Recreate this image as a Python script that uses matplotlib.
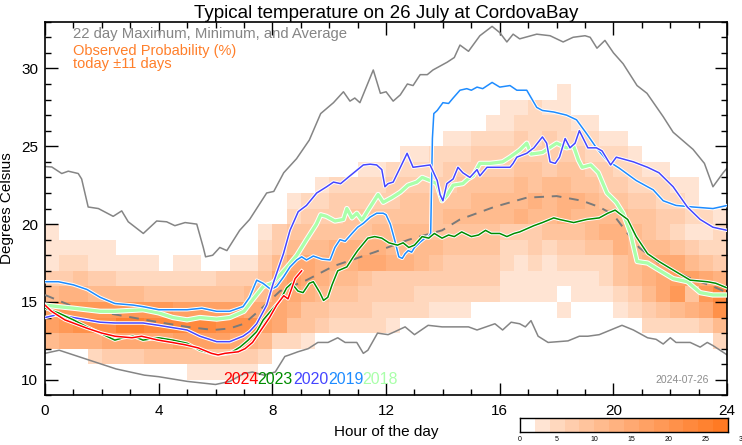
import numpy as np
import matplotlib
matplotlib.use('Agg')
import matplotlib.pyplot as plt
import matplotlib.patheffects as pe
from matplotlib.colors import ListedColormap, BoundaryNorm

plt.rcParams['font.family'] = ['Liberation Sans', 'DejaVu Sans']

# observed probability, one row per 1 degree bin (28-29 at top down to 10-11),
# one char per half hour (0.0 .. 23.5). char = colour bar step (2 % each, 0 = blank)
# each row is written in 4 blocks of 12 half hours (0-6h, 6-12h, 12-18h, 18-24h)
prob_rows = [
    "000000000000" "000000000000" "000000000000" "100000000000",  # 28
    "000000000000" "000000000000" "000000001121" "100000000000",  # 27
    "000000000000" "000000000000" "000000011222" "211000000000",  # 26
    "000000000000" "000000000000" "000011222323" "222110000000",  # 25
    "000000000000" "000000000000" "011222333333" "332221000000",  # 24
    "000000000000" "000000000011" "222233333443" "443322110000",  # 23
    "000000000000" "000000012222" "333334444545" "544332221100",  # 22
    "000000000000" "000001223333" "344444555565" "665443322100",  # 21
    "000000000000" "000002333444" "444455555655" "655554433221",  # 20
    "100000000000" "000134444445" "555444443334" "445665432112",  # 19
    "111110000000" "000235556666" "555544442232" "334465554322",  # 18
    "122111110110" "011357766677" "665433332121" "222245677543",  # 17
    "334332222222" "333478765543" "333333331111" "111245678876",  # 16
    "566555544444" "445577654433" "332222221111" "01112357949b",  # 15
    "899999999888" "887776443332" "222111000000" "10001234567a",  # 14
    "89aaaccbbbbb" "aaa874432222" "100000000000" "000000222235",  # 13
    "566677777888" "876522100000" "000000000000" "000000000002",  # 12
    "000233344444" "433200000000" "000000000000" "000000000000",  # 11
    "000000000011" "111000000000" "000000000000" "000000000000",  # 10
]
bin_bottom = np.arange(28, 9, -1)
cbar_steps = np.arange(0, 30, 2)

# 22 day max / min / average
max_h = [0, 0.24, 0.59, 0.82, 1.17, 1.29, 1.52, 1.88, 2.4, 2.7, 2.93, 3.46, 3.93, 4.28, 4.57, 4.93, 5.34,
         5.57, 5.65, 5.9, 6.15, 6.4, 6.85, 7.2, 7.8, 8.05, 8.4, 8.85, 9.3, 9.7, 10.15, 10.5, 10.73,
         10.9, 11.08, 11.55, 11.8, 12.0, 12.25, 12.5, 12.75, 12.95, 13.2, 13.45, 13.65, 14.15, 14.4,
         14.6, 14.9, 15.3, 15.73, 16.0, 16.25, 16.47, 16.7, 17.3, 17.77, 18.23, 18.58, 19.0, 19.18,
         19.42, 19.7, 20.0, 20.34, 20.83, 21.18, 21.75, 22.1, 22.8, 23.2, 23.5, 23.86, 24.0]
max_t = [23.7, 23.67, 23.25, 23.4, 23.25, 22.9, 21.1, 21.0, 20.5, 20.85, 20.15, 19.4, 20.2, 20.15, 19.9,
         20.1, 20.0, 18.5, 17.9, 18.0, 18.5, 18.3, 19.6, 20.3, 22.0, 22.1, 23.3, 24.2, 25.4, 27.1, 27.8,
         28.5, 27.9, 28.1, 27.8, 29.9, 28.4, 28.5, 27.9, 28.3, 29.0, 28.9, 29.6, 29.6, 29.9, 30.4, 30.7,
         31.5, 31.1, 32.1, 32.7, 32.3, 31.7, 32.2, 31.9, 32.2, 32.1, 31.7, 32.0, 32.1, 32.0, 31.3, 31.8,
         31.0, 30.3, 28.9, 28.4, 26.9, 25.9, 24.8, 23.9, 22.4, 23.3, 23.6]

min_h = [0, 0.5, 1.5, 2.5, 3.5, 4.0, 5.0, 6.0, 6.5, 7.0, 7.3, 7.7, 8.1, 8.44, 8.6, 8.9, 9.26, 9.6, 9.96,
         10.3, 10.56, 10.97, 11.2, 11.36, 11.7, 12.07, 12.32, 12.67, 13.0, 13.48, 13.97, 14.9, 15.2,
         15.83, 16.1, 16.4, 16.7, 16.9, 17.1, 17.35, 17.7, 18.4, 18.8, 19.1, 19.5, 20.3, 20.7, 21.2,
         21.5, 21.75, 22.0, 22.2, 22.7, 23.05, 23.3, 23.5, 24.0]
min_t = [11.7, 11.9, 11.3, 10.7, 10.3, 10.2, 9.9, 9.7, 9.9, 10.4, 10.5, 10.3, 10.5, 11.5, 11.6, 11.8,
         12.0, 12.4, 12.4, 12.7, 12.4, 12.4, 11.7, 11.9, 13.0, 12.9, 13.1, 13.4, 12.9, 13.5, 13.4, 13.4,
         13.2, 13.6, 13.2, 13.7, 13.6, 13.4, 13.8, 12.8, 12.4, 12.5, 12.8, 12.8, 12.9, 13.5, 13.2, 12.7,
         12.6, 12.3, 12.7, 12.4, 12.4, 12.1, 12.4, 12.2, 11.6]

avg_h = [0, 1.0, 2.46, 4.0, 5.0, 5.93, 6.5, 7.0, 7.57, 8.27, 9.2, 10.15, 11.6, 12.8, 13.97, 14.6, 15.8,
         16.95, 18.0, 18.9, 19.5, 20.0, 20.5, 20.9, 21.6, 22.6, 23.5, 24.0]
avg_t = [15.45, 14.7, 14.2, 13.7, 13.4, 13.2, 13.3, 13.6, 14.5, 15.7, 16.4, 17.3, 18.2, 19.0, 19.6, 20.3,
         21.1, 21.7, 21.8, 21.5, 21.1, 20.6, 19.4, 18.5, 17.5, 16.6, 16.0, 15.6]

# individual years
y2024_h = [0, 0.23, 0.7, 1.5, 2.0, 2.46, 3.06, 3.4, 3.98, 4.47, 4.93, 5.39, 5.86, 6.09, 6.33, 6.8, 7.04,
           7.3, 7.6, 7.9, 8.15, 8.4, 8.55, 8.8, 9.03]
y2024_t = [14.8, 14.4, 13.85, 13.3, 13.0, 12.8, 12.7, 12.8, 12.55, 12.4, 12.25, 12.05, 11.7, 11.6, 11.7,
           11.8, 12.0, 12.4, 13.2, 14.0, 14.8, 15.4, 15.2, 16.5, 17.0]

y2023_h = [0, 0.47, 1.0, 1.48, 1.94, 2.46, 2.75, 3.1, 3.45, 4.0, 4.5, 5.0, 5.45, 6.04, 6.5, 6.86, 7.15,
           7.45, 7.68, 8.03, 8.27, 8.5, 8.68, 8.9, 9.08, 9.3, 9.44, 9.67, 9.8, 9.95, 10.1, 10.3, 10.62,
           10.85, 11.0, 11.36, 11.6, 11.85, 12.1, 12.4, 12.6, 12.8, 13.0, 13.27, 13.5, 13.7, 13.97, 14.2,
           14.4, 14.66, 15.0, 15.25, 15.5, 15.7, 16.0, 16.25, 16.5, 16.7, 16.95, 17.2, 17.5, 17.9, 18.1,
           18.6, 19.06, 19.5, 19.8, 20.06, 20.2, 20.5, 20.8, 21.2, 21.6, 22.1, 22.7, 23.3, 23.6, 24.0]
y2023_t = [14.6, 14.3, 13.85, 13.4, 13.0, 12.55, 12.7, 12.8, 12.55, 12.7, 12.55, 12.35, 11.9, 11.6, 11.7,
           12.1, 12.55, 13.1, 13.85, 14.6, 15.1, 15.9, 16.2, 15.7, 15.6, 16.2, 16.3, 15.6, 15.1, 15.3,
           16.1, 17.0, 17.25, 17.9, 18.3, 19.1, 19.2, 19.1, 18.8, 18.65, 18.8, 18.5, 18.65, 19.2, 19.1,
           19.4, 19.1, 19.3, 19.2, 19.5, 19.2, 19.3, 19.6, 19.4, 19.4, 19.2, 19.4, 19.5, 19.7, 19.9,
           20.1, 20.4, 20.3, 20.1, 20.3, 20.4, 20.7, 20.9, 20.7, 20.3, 19.2, 18.1, 17.6, 17.05, 16.4,
           16.3, 16.2, 15.9]

y2020_h = [0, 0.47, 1.0, 1.94, 2.46, 3.45, 4.0, 5.0, 5.45, 6.04, 6.5, 6.97, 7.2, 7.45, 7.8, 8.03, 8.39,
           8.62, 8.91, 9.2, 9.56, 9.91, 10.15, 10.4, 10.73, 11.2, 11.44, 11.67, 11.85, 11.96, 12.07,
           12.25, 12.49, 12.74, 12.95, 13.55, 13.8, 13.9, 14.0, 14.14, 14.36, 14.53, 14.7, 14.95, 15.2,
           15.3, 15.55, 15.9, 16.36, 16.47, 16.6, 16.95, 17.2, 17.5, 17.65, 17.77, 17.95, 18.1, 18.3,
           18.47, 18.65, 18.8, 19.1, 19.4, 19.6, 19.9, 20.1, 20.7, 21.2, 21.6, 22.1, 22.6, 23.05, 23.5,
           24.0]
y2020_t = [14.0, 14.2, 14.0, 13.7, 13.65, 13.65, 13.5, 13.2, 12.8, 12.45, 12.45, 12.8, 13.1, 13.6, 14.8,
           16.2, 18.1, 19.6, 20.8, 21.2, 22.0, 22.4, 22.7, 22.6, 23.1, 23.8, 23.85, 23.8, 23.5, 22.4,
           22.6, 22.7, 23.6, 24.55, 23.65, 23.8, 22.8, 21.9, 21.5, 22.6, 22.9, 23.65, 23.3, 23.0, 23.5,
           23.1, 23.65, 23.65, 23.65, 23.9, 24.3, 24.55, 24.9, 25.6, 25.2, 24.0, 23.9, 24.3, 25.5, 24.9,
           25.2, 26.0, 24.9, 24.9, 24.7, 23.8, 24.3, 24.0, 23.65, 23.3, 22.4, 21.1, 20.3, 19.8, 19.6]

y2019_h = [0, 0.47, 1.0, 1.48, 1.94, 2.46, 3.1, 3.45, 4.0, 5.0, 5.52, 6.04, 6.5, 6.97, 7.2, 7.45, 7.67,
           7.95, 8.15, 8.39, 8.62, 8.86, 9.03, 9.2, 9.44, 9.75, 10.03, 10.2, 10.38, 10.56, 10.8, 11.0,
           11.2, 11.44, 11.67, 11.9, 12.0, 12.15, 12.3, 12.45, 12.57, 12.67, 12.78, 12.9, 13.0, 13.2,
           13.37, 13.5, 13.57, 13.63, 13.68, 13.8, 14.0, 14.2, 14.36, 14.6, 14.84, 15.0, 15.2, 15.4,
           15.73, 16.0, 16.36, 16.6, 16.95, 17.3, 17.5, 17.9, 18.35, 18.7, 19.06, 19.4, 19.77, 20.2,
           20.8, 21.4, 21.75, 22.2, 22.8, 23.5, 24.0]
y2019_t = [16.3, 16.3, 16.1, 15.8, 15.3, 14.9, 14.8, 14.7, 14.5, 14.5, 14.6, 14.4, 14.4, 14.7, 15.3,
           16.4, 16.2, 15.8, 16.0, 16.6, 17.25, 17.7, 17.9, 17.7, 17.95, 17.75, 17.7, 18.5, 19.0, 18.9,
           19.4, 19.8, 20.05, 20.45, 20.7, 20.7, 20.6, 20.0, 19.0, 17.9, 17.8, 18.1, 18.3, 18.2, 18.5,
           18.85, 19.1, 19.2, 19.4, 25.5, 27.1, 27.3, 27.8, 27.75, 28.1, 28.6, 28.7, 28.6, 28.8, 28.7,
           29.1, 28.8, 28.9, 28.6, 28.6, 27.5, 27.3, 27.2, 27.0, 26.7, 25.8, 24.9, 24.1, 23.6, 22.8,
           22.2, 21.5, 21.2, 21.1, 21.0, 21.2]

y2018_h = [0, 0.47, 1.0, 1.94, 2.46, 3.45, 4.0, 4.5, 5.0, 5.45, 6.04, 6.5, 7.0, 7.33, 7.68, 8.0, 8.5,
           8.86, 9.2, 9.55, 9.7, 9.9, 10.2, 10.5, 10.62, 10.8, 10.97, 11.15, 11.37, 11.72, 11.9, 12.2,
           12.5, 12.77, 13.08, 13.27, 13.55, 13.78, 13.97, 14.14, 14.36, 14.7, 14.88, 15.06, 15.3, 15.66,
           16.1, 16.36, 16.7, 16.95, 17.1, 17.5, 18.0, 18.35, 18.6, 18.77, 18.9, 19.2, 19.47, 19.77,
           20.1, 20.34, 20.6, 20.83, 21.2, 21.6, 22.1, 22.6, 23.05, 23.5, 24.0]
y2018_t = [14.8, 14.7, 14.6, 14.4, 14.4, 14.5, 14.3, 14.0, 13.85, 14.0, 13.9, 14.0, 14.4, 15.2, 16.0,
           16.2, 17.2, 18.0, 19.0, 20.0, 20.6, 20.5, 20.2, 20.3, 21.0, 20.4, 20.7, 20.25, 20.9, 21.9,
           21.4, 21.7, 22.05, 22.5, 22.7, 23.0, 22.8, 22.6, 21.5, 21.85, 22.5, 22.6, 22.9, 23.1, 23.9,
           23.9, 24.0, 24.3, 24.75, 25.2, 24.5, 24.6, 25.2, 24.9, 25.0, 24.1, 23.65, 23.8, 23.3, 22.0,
           21.4, 20.7, 19.4, 17.6, 17.5, 17.05, 16.5, 16.3, 15.6, 15.45, 15.45]

years = ['2018', '2019', '2020', '2023', '2024']
year_h = [y2018_h, y2019_h, y2020_h, y2023_h, y2024_h]
year_t = [y2018_t, y2019_t, y2020_t, y2023_t, y2024_t]
year_col = ['#aaffaa', '#1e8cff', '#4646ff', '#008c00', '#ff0000']

# heat colours: orange mixed into white, one per colour bar step
orange = np.array([255, 122, 36]) / 255.0
heat_cols = [(1, 1, 1)]
for k in range(1, 14):
    a = 0.2 + 0.8 * ((k - 1) / 12) ** 0.85
    heat_cols.append(tuple(1 - a * (1 - orange)))
cmap = ListedColormap(heat_cols)
norm = BoundaryNorm(cbar_steps, cmap.N)

grid = np.array([[int(c, 16) for c in r] for r in prob_rows])
pct = np.where(grid > 0, grid * 2 + 1, 0)

fig = plt.figure(figsize=(7.42, 4.45), dpi=100)
ax = fig.add_axes([0.0606, 0.1115, 0.9194, 0.8397])

x_edges = np.arange(0, 24.01, 0.5)
y_edges = np.append(bin_bottom[::-1], bin_bottom[0] + 1)
ax.pcolormesh(x_edges, y_edges, pct[::-1], cmap=cmap, norm=norm, zorder=0)

ax.plot(max_h, max_t, color='#858585', lw=1.1, zorder=2)
ax.plot(min_h, min_t, color='#858585', lw=1.1, zorder=2)
ax.plot(avg_h, avg_t, color='#7a7a7a', lw=1.4, dashes=(5, 4), zorder=3)

for name, hh, tt, c in zip(years, year_h, year_t, year_col):
    lw = 2.4 if name == '2018' else 1.1
    ax.plot(hh, tt, color=c, lw=lw, zorder=4,
            path_effects=[pe.Stroke(linewidth=lw + 1.4, foreground='white'), pe.Normal()])

ax.set_xlim(0, 24)
ax.set_ylim(9, 33)
ax.set_xticks(np.arange(0, 25, 4))
ax.set_xticks(np.arange(0, 25, 1), minor=True)
ax.set_yticks(np.arange(10, 31, 5))
ax.set_yticks(np.arange(9, 34, 1), minor=True)
ax.tick_params(which='both', direction='in', top=True, right=True, labelsize=11, width=1)
ax.tick_params(which='major', length=9)
ax.tick_params(which='minor', length=4.5)
ax.tick_params(axis='x', pad=6)
ax.tick_params(axis='y', pad=5)
for s in ax.spines.values():
    s.set_linewidth(1.2)

ax.set_xlabel('Hour of the day', fontsize=11, labelpad=5)
ax.set_ylabel('Degrees Celsius', fontsize=11, labelpad=5)
ax.set_title('Typical temperature on 26 July at CordovaBay', fontsize=13.5, pad=3)

ax.text(0.98, 32.2, '22 day Maximum, Minimum, and Average', color='#858585', fontsize=10.7, va='center')
ax.text(0.98, 31.55, 'Observed Probability (%)\ntoday \u00b111 days', color='#ff7f2a',
        fontsize=10.5, va='top', linespacing=0.92)

year_x = [11.15, 9.96, 8.73, 7.46, 6.26]
for name, c, xx in zip(years, year_col, year_x):
    ax.text(xx, 10.0, name, color=c, fontsize=11.5, va='center', ha='left')
ax.text(23.35, 10.0, '2024-07-26', color='#8c8c8c', fontsize=7.5, va='center', ha='right')

# colour bar
cax = fig.add_axes([0.7008, 0.0299, 0.2803, 0.0301])
cax.pcolormesh(cbar_steps, [0, 1], (cbar_steps[:-1] + 1).reshape(1, -1), cmap=cmap, norm=norm)
cax.set_xlim(0, 28)
cax.set_ylim(0, 1)
cax.set_yticks([])
cax.set_xticks([])
for v in range(0, 35, 5):
    cax.text(v, -0.35, str(v), fontsize=5, ha='center', va='top', clip_on=False)
for s in cax.spines.values():
    s.set_linewidth(1.0)

fig.savefig('out.png', dpi=100)
